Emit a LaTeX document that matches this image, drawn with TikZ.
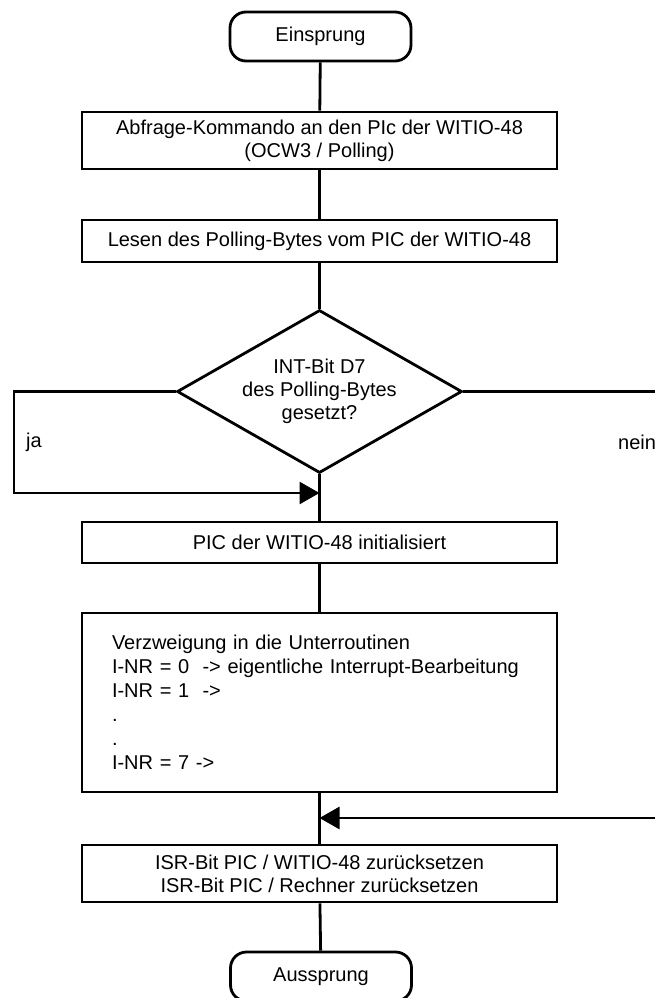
\documentclass[tikz,border=0pt]{standalone}
\usepackage{fontspec}
\setmainfont{Liberation Sans}
\usetikzlibrary{arrows.meta,shapes.geometric}
\begin{document}
\begin{tikzpicture}[x=1pt,y=-1pt,
  every node/.style={font=\fontsize{20}{23}\selectfont},
  flow/.style={line width=2.8pt},
  tip/.style={-{Triangle[length=20pt,width=22pt]}},
  procbox/.style={draw,line width=2.8pt,minimum width=475pt,inner sep=0pt,align=center},
  term/.style={draw,line width=2.8pt,rounded corners=16pt,minimum width=181pt,minimum height=49pt,inner sep=0pt},
  decision/.style={draw,diamond,line width=2.8pt,aspect=1.75,minimum width=285pt,minimum height=163pt,inner sep=0pt,align=center},
  lbl/.style={inner sep=0pt}
]
\useasboundingbox (0,0) rectangle (655,998);

% terminals and process steps
\node[term] (ein) at (320.5,36.5) {Einsprung};
\node[procbox,minimum height=57pt] (b1) at (319.5,140.5)
  {Abfrage-Kommando an den PIc der WITIO-48\\(OCW3 / Polling)};
\node[procbox,minimum height=42pt] (b2) at (319.5,241)
  {Lesen des Polling-Bytes vom PIC der WITIO-48};
\node[decision] (dia) at (319.5,391.5) {INT-Bit D7\\des Polling-Bytes\\gesetzt?};
\node[procbox,minimum height=41pt] (b3) at (319.5,542.5)
  {PIC der WITIO-48 initialisiert};
\node[procbox,minimum height=179pt,align=left,text width=415pt,inner xsep=30pt,
      font=\fontsize{20}{24}\selectfont] (b4) at (319.5,702.5)
  {Verzweigung in die Unterroutinen\\
   I-NR = 0\ \ -> eigentliche Interrupt-Bearbeitung\\
   I-NR = 1\ \ ->\\
   .\\
   .\\
   I-NR = 7 ->};
\node[procbox,minimum height=57pt] (b5) at (319.5,873.5)
  {ISR-Bit PIC / WITIO-48 zurücksetzen\\ISR-Bit PIC / Rechner zurücksetzen};
\node[term] (aus) at (321,976.5) {Aussprung};

% branch labels
\node[lbl,anchor=west] (ja) at (26,442) {ja};
\node[lbl,anchor=west] (nein) at (618,442) {nein};

% helper points for the branches
\coordinate (jaL) at (14,391.5);
\coordinate (jaB) at (14,493);
\coordinate (jaJ) at (319.5,493);
\coordinate (neinR) at (655,391.5);
\coordinate (backR) at (655,818);
\coordinate (backJ) at (319.5,818);

% main flow
\draw[flow] (ein) -- (b1);
\draw[flow] (b1) -- (b2);
\draw[flow] (b2) -- (dia.north);
\draw[flow] (dia.south) -- (b3);
\draw[flow] (b3) -- (b4);
\draw[flow] (b4) -- (b5);
\draw[flow] (b5) -- (aus);

% "ja" branch loops back below the decision
\draw[flow,tip] (dia.west) -- (jaL) -- (jaB) -- (jaJ);

% "nein" branch leaves to the right and returns before the last step
\draw[flow] (dia.east) -- (neinR);
\draw[flow,tip] (backR) -- (backJ);
\end{tikzpicture}
\end{document}
